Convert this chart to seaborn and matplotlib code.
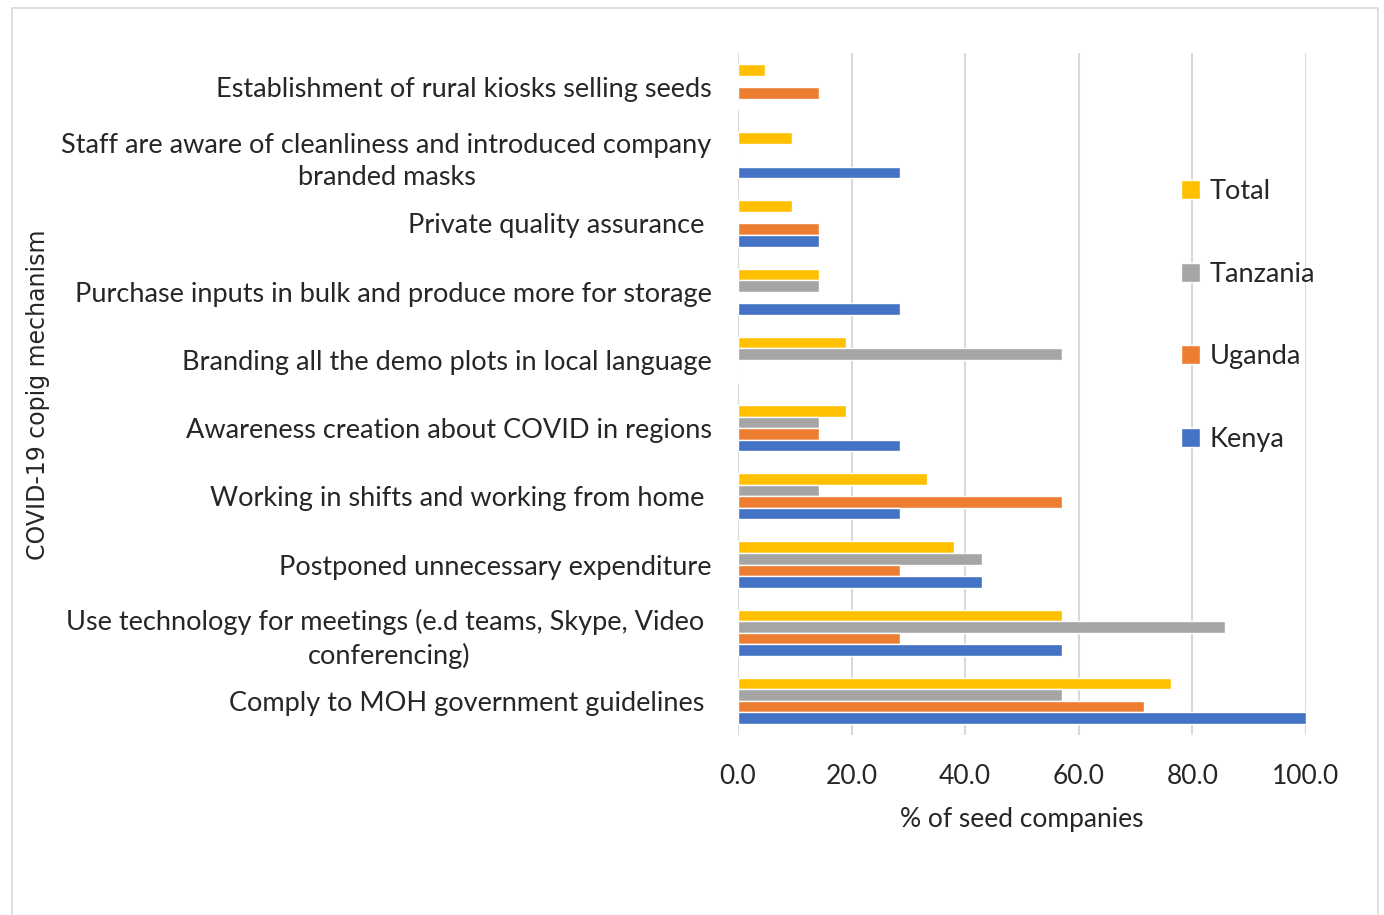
import matplotlib
matplotlib.use("Agg")
import matplotlib.pyplot as plt
import seaborn as sns
import pandas as pd
from matplotlib.patches import Rectangle

# Coping mechanisms (top to bottom)
mechanisms = [
    "Establishment of rural kiosks selling seeds",
    "Staff are aware of cleanliness and introduced company\nbranded masks",
    "Private quality assurance ",
    "Purchase inputs in bulk and produce more for storage",
    "Branding all the demo plots in local language",
    "Awareness creation about COVID in regions",
    "Working in shifts and working from home ",
    "Postponed unnecessary expenditure",
    "Use technology for meetings (e.d teams, Skype, Video \nconferencing)",
    "Comply to MOH government guidelines ",
]

# % of seed companies per country
total    = [4.8, 9.5, 9.5, 14.3, 19.0, 19.0, 33.3, 38.1, 57.1, 76.2]
tanzania = [0.0, 0.0, 0.0, 14.3, 57.1, 14.3, 14.3, 42.9, 85.7, 57.1]
uganda   = [14.3, 0.0, 14.3, 0.0, 0.0, 14.3, 57.1, 28.6, 28.6, 71.4]
kenya    = [0.0, 28.6, 14.3, 28.6, 0.0, 28.6, 28.6, 42.9, 57.1, 100.0]

series_names = ["Total", "Tanzania", "Uganda", "Kenya"]
series_vals = [total, tanzania, uganda, kenya]
palette = {"Total": "#FFC000", "Tanzania": "#A5A5A5", "Uganda": "#ED7D31", "Kenya": "#4472C4"}

rows = []
for name, vals in zip(series_names, series_vals):
    for mech, v in zip(mechanisms, vals):
        rows.append({"mechanism": mech, "country": name, "pct": v})
df = pd.DataFrame(rows)

sns.set_theme(style="white")
plt.rcParams["font.family"] = ["Lato", "DejaVu Sans"]

fig = plt.figure(figsize=(13.84, 9.15), dpi=100)
ax = fig.add_axes([738 / 1384, 1 - 735 / 915, (1306 - 738) / 1384, (735 - 53) / 915])

sns.barplot(data=df, y="mechanism", x="pct", hue="country", order=mechanisms,
            hue_order=series_names, palette=palette, orient="h", width=0.68,
            saturation=1, ax=ax, legend=True)

ax.set_xlim(0, 100)
ax.set_xticks([0, 20, 40, 60, 80, 100])
ax.set_xticklabels([f"{t:.1f}" for t in [0, 20, 40, 60, 80, 100]], fontsize=19)
ax.xaxis.grid(True, color="#D9D9D9", linewidth=1.5)
ax.set_axisbelow(True)
for s in ax.spines.values():
    s.set_visible(False)
ax.tick_params(axis="x", length=0, pad=21)
ax.tick_params(axis="y", length=0, pad=19)
for lbl in ax.get_yticklabels():
    lbl.set_fontsize(19.5)
    lbl.set_multialignment("center")
    lbl.set_linespacing(1.35)

ax.set_xlabel("% of seed companies", fontsize=19, labelpad=13)
ax.set_ylabel("")
fig.text(38 / 1384, 1 - 395 / 915, "COVID-19 copig mechanism", rotation=90,
         ha="center", va="center", fontsize=17, family=["DejaVu Sans"])

handles, labels = ax.get_legend_handles_labels()
ax.legend(handles, labels, loc="upper left", bbox_to_anchor=(1157 / 1384, 1 - 155 / 915),
          bbox_transform=fig.transFigure, frameon=False, fontsize=19.5,
          handlelength=0.7, handleheight=0.7, handletextpad=0.35, labelspacing=2.12)

# Light chart-area border
fig.patches.append(Rectangle((12 / 1384, -0.02), (1378 - 12) / 1384, 1.02 - 8 / 915,
                             transform=fig.transFigure, fill=False,
                             edgecolor="#D9D9D9", linewidth=1.2))

fig.savefig("out.png", dpi=100, facecolor="white")
